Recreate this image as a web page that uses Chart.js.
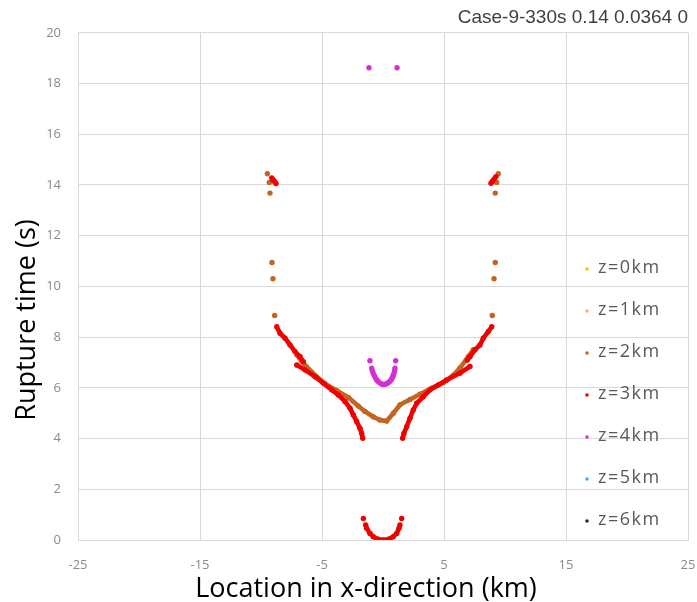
<!DOCTYPE html>
<html>
<head>
<meta charset="utf-8">
<style>
html,body{margin:0;padding:0;background:#fff;}
canvas{display:block;}
</style>
<script src="https://cdn.jsdelivr.net/npm/chart.js@4.4.1/dist/chart.umd.min.js"></script>
</head>
<body>
<canvas id="c" width="697" height="602"></canvas>
<script>
// ---------- DATA ----------
const chartTitle = 'Case-9-330s 0.14 0.0364 0';
const xAxisTitle = 'Location in x-direction (km)';
const yAxisTitle = 'Rupture time (s)';
const seriesNames = ['z=0km', 'z=1km', 'z=2km', 'z=3km', 'z=4km', 'z=5km', 'z=6km'];
const seriesColors = ['#FFC000', '#F4B183', '#C46420', '#F00000', '#D42ED4', '#2FB5EA', '#1F2D4A'];
const xTicks = [-25, -15, -5, 5, 15, 25];
const yTicks = [0, 2, 4, 6, 8, 10, 12, 14, 16, 18, 20];

// null separates unconnected segments
const z0X = [];
const z0Y = [];
const z1X = [];
const z1Y = [];
const z2X = [-9.48, null, -9.32, null, -9.26, null, -9.10, null, -9.02, null, -8.88, null,
             9.45, null, 9.32, null, 9.20, null, 9.20, null, 9.10, null, 8.96, null,
             -7.07, -6.66, -5.84, -4.75, -3.80, -2.84, -2.02, -1.48, -0.80, -0.25,
             0.30, 0.85, 1.39, 2.21, 3.03, 3.99, 4.95, 5.77, 6.31, 6.99, 7.40];
const z2Y = [14.44, null, 14.10, null, 13.68, null, 10.94, null, 10.30, null, 8.85, null,
             14.44, null, 14.10, null, 13.68, null, 10.94, null, 10.30, null, 8.85, null,
             7.30, 7.05, 6.62, 6.16, 5.90, 5.62, 5.28, 5.07, 4.86, 4.73,
             4.69, 5.00, 5.33, 5.54, 5.75, 5.99, 6.21, 6.50, 6.78, 7.23, 7.50];
const z3X = [-8.71, -8.44, -8.03, -7.62, -7.21, -6.80, -6.53, null,
             -7.07, -6.39, -5.57, -4.89, -4.20, -3.66, -3.11, -2.70, -2.43, -2.16, -1.89, -1.75, -1.66, null,
             8.91, 8.63, 8.22, 7.95, 7.54, 7.13, 6.91, null,
             7.13, 6.31, 5.22, 4.53, 3.85, 3.31, 2.76, 2.48, 2.21, 1.94, 1.72, 1.61, null,
             -9.12, -9.00, -8.88, -8.77, null,
             8.85, 8.98, 9.12, 9.26, null,
             -1.61, null, 1.53, null,
             -1.42, -1.34, -1.07, -0.80, -0.38, 0.03, 0.43, 0.84, 1.12, 1.31, 1.39];
const z3Y = [8.41, 8.15, 7.96, 7.69, 7.43, 7.23, 7.03, null,
             6.90, 6.71, 6.44, 6.18, 5.92, 5.72, 5.46, 5.20, 4.93, 4.67, 4.41, 4.21, 4.01, null,
             8.41, 8.22, 7.96, 7.69, 7.50, 7.23, 7.10, null,
             6.84, 6.58, 6.31, 6.11, 5.92, 5.65, 5.39, 5.13, 4.80, 4.47, 4.21, 4.01, null,
             14.28, 14.20, 14.13, 14.06, null,
             14.07, 14.15, 14.24, 14.33, null,
             0.85, null, 0.85, null,
             0.59, 0.46, 0.26, 0.13, 0.03, 0.00, 0.03, 0.13, 0.26, 0.46, 0.59];
const z4X = [-1.15, 1.15, -1.07, 1.04, -0.93, -0.87, -0.80, -0.70, -0.60, -0.50, -0.39, -0.25, -0.11,
             0.02, 0.16, 0.30, 0.43, 0.55, 0.66, 0.73, 0.80, 0.85, 0.90, 0.95, 0.98];
const z4Y = [18.62, 18.62, 7.07, 7.07, 6.77, 6.67, 6.57, 6.47, 6.38, 6.30, 6.25, 6.19, 6.15,
             6.13, 6.14, 6.16, 6.20, 6.25, 6.31, 6.37, 6.44, 6.50, 6.57, 6.67, 6.77];
const z5X = [];
const z5Y = [];
const z6X = [];
const z6Y = [];

const allX = [z0X, z1X, z2X, z3X, z4X, z5X, z6X];
const allY = [z0Y, z1Y, z2Y, z3Y, z4Y, z5Y, z6Y];
const connected = [true, true, true, true, false, true, true];

// ---------- CHART ----------
function toPoints(xs, ys) {
  return xs.map((x, i) => ({ x: x, y: ys[i] }));
}

const datasets = seriesNames.map((name, i) => ({
  label: name,
  data: toPoints(allX[i], allY[i]),
  showLine: connected[i],
  spanGaps: false,
  borderColor: seriesColors[i],
  backgroundColor: seriesColors[i],
  borderWidth: 4.6,
  pointRadius: 2.7,
  pointBorderWidth: 0,
  pointBackgroundColor: seriesColors[i],
  order: 10 - i
}));

const gridColor = '#D9D9D9';
const tickFont = { family: 'Open Sans', size: 13 };
const tickColor = '#8A8A8A';

const overlay = {
  id: 'overlay',
  beforeDraw(chart) {
    const ctx = chart.ctx;
    ctx.save();
    ctx.fillStyle = '#fff';
    ctx.fillRect(0, 0, chart.width, chart.height);
    ctx.restore();
  },
  afterDraw(chart) {
    const ctx = chart.ctx;
    ctx.save();
    // axis titles
    ctx.fillStyle = '#000';
    ctx.font = '27px "Open Sans"';
    ctx.textAlign = 'center';
    ctx.textBaseline = 'alphabetic';
    ctx.fillText(xAxisTitle, 366, 597);
    ctx.save();
    ctx.translate(35, 320);
    ctx.rotate(-Math.PI / 2);
    ctx.fillText(yAxisTitle, 0, 0);
    ctx.restore();
    // legend inside plot area
    ctx.font = '18px "Open Sans"';
    try { ctx.letterSpacing = '1.5px'; } catch (e) {}
    ctx.textAlign = 'left';
    ctx.textBaseline = 'middle';
    seriesNames.forEach((name, i) => {
      const y = 268 + i * 42;
      ctx.beginPath();
      ctx.fillStyle = seriesColors[i];
      ctx.arc(587, y + 1, 1.8, 0, Math.PI * 2);
      ctx.fill();
      ctx.fillStyle = '#595959';
      ctx.fillText(name, 598, y);
    });
    ctx.restore();
  }
};

new Chart(document.getElementById('c'), {
  type: 'scatter',
  data: { datasets: datasets },
  plugins: [overlay],
  options: {
    responsive: false,
    animation: false,
    events: [],
    layout: { padding: { left: 0, right: 9, top: 0, bottom: 0 } },
    plugins: {
      legend: { display: false },
      tooltip: { enabled: false },
      title: {
        display: true,
        text: chartTitle,
        align: 'end',
        color: '#404040',
        font: { family: 'Liberation Sans', size: 19, weight: 'normal' },
        padding: { top: 6, bottom: 4 }
      }
    },
    scales: {
      x: {
        type: 'linear',
        min: -25,
        max: 25,
        afterBuildTicks: s => { s.ticks = xTicks.map(v => ({ value: v })); },
        afterFit: s => { s.height = 62; s.paddingLeft = 0; s.paddingRight = 0; },
        ticks: { color: tickColor, font: tickFont, padding: 17, maxRotation: 0, autoSkip: false },
        grid: { color: gridColor, drawTicks: false, lineWidth: 1 },
        border: { color: gridColor, width: 1 }
      },
      y: {
        type: 'linear',
        min: 0,
        max: 20,
        afterBuildTicks: s => { s.ticks = yTicks.map(v => ({ value: v })); },
        afterFit: s => { s.width = 78; s.paddingTop = 0; s.paddingBottom = 0; },
        ticks: { color: tickColor, font: tickFont, padding: 17, autoSkip: false },
        grid: { color: gridColor, drawTicks: false, lineWidth: 1 },
        border: { color: gridColor, width: 1 }
      }
    }
  }
});
</script>
</body>
</html>
